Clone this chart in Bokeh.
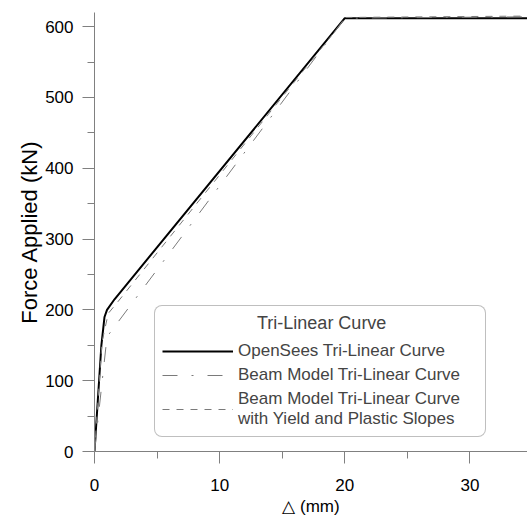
from bokeh.plotting import figure
from bokeh.models import Legend, LegendItem, FixedTicker, Range1d
from bokeh.embed import file_html
from bokeh.resources import INLINE

# ---- data ----
opensees_x = [0, 0.55, 0.8, 1.0, 1.6, 20.0, 35.0]
opensees_f = [0, 150, 190, 200, 215, 612, 612]

beam_x = [0, 1.0, 20.0, 35.0]
beam_f = [0, 162, 612, 614]

yield_x = [0, 0.6, 1.1, 1.8, 20.1, 35.0]
yield_f = [0, 155, 195, 210, 613, 615]

x_ticks = [0, 10, 20, 30]
y_ticks = [0, 100, 200, 300, 400, 500, 600]

legend_title = "Tri-Linear Curve"
labels = ["OpenSees Tri-Linear Curve",
          "Beam Model Tri-Linear Curve",
          "Beam Model Tri-Linear Curve\nwith Yield and Plastic Slopes"]

FONT = "Liberation Sans"
AXIS_GRAY = "#808080"
LINE_GRAY = "#7a7a7a"

p = figure(width=527, height=521,
           x_range=Range1d(0, 34.6), y_range=Range1d(0, 620),
           output_backend="svg", toolbar_location=None,
           min_border_left=94, min_border_right=0,
           min_border_top=12, min_border_bottom=70)
p.outline_line_color = None
p.xgrid.visible = False
p.ygrid.visible = False
p.background_fill_color = "white"
p.border_fill_color = "white"

r1 = p.line(opensees_x, opensees_f, line_color="black", line_width=2)
r2 = p.line(beam_x, beam_f, line_color=LINE_GRAY, line_width=1, line_dash="15 14 2 14")
r3 = p.line(yield_x, yield_f, line_color=LINE_GRAY, line_width=1, line_dash="7 7")

for ax, ticks in ((p.xaxis[0], x_ticks), (p.yaxis[0], y_ticks)):
    ax.ticker = FixedTicker(ticks=ticks,
                            minor_ticks=[t + (ticks[1] - ticks[0]) / 2 for t in ticks])
    ax.axis_line_color = AXIS_GRAY
    ax.major_tick_line_color = AXIS_GRAY
    ax.minor_tick_line_color = AXIS_GRAY
    ax.major_tick_out = 12
    ax.major_tick_in = 0
    ax.minor_tick_out = 7
    ax.minor_tick_in = 0
    ax.major_label_text_font = FONT
    ax.major_label_text_font_size = "17px"
    ax.major_label_text_color = "black"
    ax.axis_label_text_font = FONT
    ax.axis_label_text_font_style = "normal"
    ax.axis_label_text_color = "black"

p.xaxis.axis_label = "\u25b3 (mm)"
p.xaxis.axis_label_text_font_size = "17px"
p.xaxis.major_label_standoff = 15
p.xaxis.axis_label_standoff = 3

p.yaxis.axis_label = "Force Applied (kN)"
p.yaxis.axis_label_text_font_size = "22px"
p.yaxis.major_label_standoff = 9
p.yaxis.axis_label_standoff = 0

legend = Legend(
    items=[LegendItem(label=labels[0], renderers=[r1]),
           LegendItem(label=labels[1], renderers=[r2]),
           LegendItem(label=labels[2], renderers=[r3])],
    location=(60, 14), title="\u00a0" * 19 + legend_title,
    title_text_font=FONT, title_text_font_size="18px", title_standoff=7,
    title_text_font_style="normal",
    label_text_font=FONT, label_text_font_size="17px",
    glyph_width=71, glyph_height=20, label_height=20, label_width=240,
    label_standoff=5, spacing=4, padding=7, margin=0,
    border_line_color=AXIS_GRAY, border_line_width=1, border_radius=8,
    background_fill_color="white", background_fill_alpha=1.0,
)
p.add_layout(legend)

open("out.html", "w").write(file_html(p, INLINE))
